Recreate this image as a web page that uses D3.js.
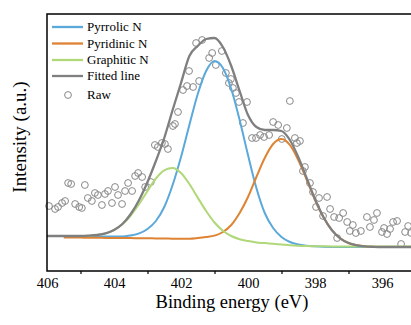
<!DOCTYPE html>
<html>
<head>
<meta charset="utf-8">
<script src="https://cdn.jsdelivr.net/npm/d3@7"></script>
<style>
    body { margin: 0; background: #fff; }
    svg { display: block; font-family: "Liberation Serif", "Times New Roman", serif; }
</style>
</head>
<body>
<svg id="xps-chart"></svg>
<script>
const width = 411, height = 325
const margin = {
    top: 14,
    bottom: 54,
    left: 47,
}

const energy = [406, 405.75, 405.5, 405.25, 405, 404.75, 404.5, 404.25, 404, 403.75, 403.5, 403.25,
    403, 402.75, 402.5, 402.25, 402, 401.75, 401.5, 401.25, 401, 400.75, 400.5, 400.25, 400,
    399.75, 399.5, 399.25, 399, 398.75, 398.5, 398.25, 398, 397.75, 397.5, 397.25, 397,
    396.75, 396.5, 396.25, 396, 395.75, 395.5, 395.25, 395]
const pyrrolic = [null, null, 35, 35, 35, 34.8, 34.7, 34.5, 34.5, 34.5, 35.6, 37.6,
    42, 50, 64, 86, 114, 146, 177, 200, 210, 203, 182, 151, 116,
    83, 58, 43, 34, 29, 26.5, 25.3, 24.7, 24.3, 24.1, 24, 24,
    24, 24, 24, 24, 24, 24, 24, 24]
const pyridinic = [null, null, 33.5, 33.5, 33.4, 33.3, 33.2, 33.1, 33, 33, 32.9, 32.8,
    32.7, 32.6, 32.5, 32.3, 32.2, 32.3, 33, 34, 35.4, 39, 46, 58, 74,
    94, 113, 127, 132, 126, 111, 91.5, 71, 54, 41, 32.7, 28,
    25.7, 24.6, 24.2, 24, 24, 24, 24, 24]
const graphitic = [null, null, 35, 35, 35, 35.3, 36, 37.6, 40.9, 46.7, 55.5, 67,
    80, 92.5, 100.7, 103, 98, 87, 73.4, 60, 48.5, 40.3, 35, 31.8, 30,
    28.6, 27.9, 27.2, 26.5, 25.8, 25.3, 25, 24.8, 24.7, 24.6, 24.6, 24.5,
    24.5, 24.5, 24.5, 24.5, 24.5, 24.5, 24.5, 24.5]
const fitted = [35, 35, 35, 35, 35, 35.3, 36, 37.6, 41, 47, 57, 71,
    89, 110, 133, 161, 188, 215, 225, 232, 233, 224, 205, 180, 156,
    144, 141, 141, 140, 131, 114, 93, 72, 54, 41, 32.7, 28,
    25.7, 24.6, 24.2, 24, 24, 24, 24, 24]

// raw spectrum points
const rawEnergy = [405.94, 405.76, 405.67, 405.55, 405.46, 405.37, 405.28, 405.16, 405.04, 404.96,
    404.87, 404.78, 404.66, 404.57, 404.48, 404.36, 404.27, 404.18, 404.06, 403.97,
    403.88, 403.76, 403.67, 403.58, 403.46, 403.37, 403.28, 403.16, 403.07, 402.90,
    402.78, 402.69, 402.57, 402.48, 402.39, 402.24, 402.18, 402.09, 401.94, 401.82,
    401.64, 401.76, 401.46, 401.55, 401.37, 401.16, 401.07, 400.96, 400.78, 400.66,
    400.51, 400.57, 400.45, 400.36, 400.27, 400.03, 400.15, 399.88, 399.76, 399.64,
    399.52, 399.37, 399.25, 399.10, 398.99, 398.84, 398.75, 398.60, 398.45, 398.54,
    398.30, 398.36, 398.15, 398.06, 397.88, 397.64, 397.97, 397.76, 397.55, 397.43,
    397.28, 397.16, 397.04, 396.96, 396.87, 396.78, 396.63, 397.34, 396.45, 396.36,
    396.24, 396.15, 396.00, 395.94, 395.85, 395.76, 395.67, 395.55, 395.43, 395.31,
    395.22, 395.13]
const rawIntensity = [65, 62, 64, 68, 70, 88, 87, 67, 64, 63,
    86, 73, 70, 78, 76, 66, 77, 80, 68, 84,
    76, 67, 80, 88, 80, 95, 98, 94, 84, 89,
    126, 124, 128, 127, 122, 145, 147, 159, 181, 185,
    184, 200, 190, 228, 231, 213, 218, 206, 220, 198,
    192, 188, 183, 178, 169, 169, 148, 133, 133, 136,
    134, 136, 149, 146, 132, 143, 170, 133, 130, 128,
    104, 100, 88, 79, 73, 74, 64, 55, 62, 54,
    53, 58, 49, 40, 46, 38, 40, 33, 54, 44,
    51, 58, 39, 43, 37, 42, 49, 50, 27, 39,
    45, 38]

const xTicks = [406, 404, 402, 400, 398, 396]
const xMinorTicks = [405, 403, 401, 399, 397]

const seriesNames = ["Pyrrolic N", "Pyridinic N", "Graphitic N", "Fitted line"]
const seriesColors = ["#5ba8da", "#de8333", "#b0d778", "#7f7f7f"]
const seriesValues = [pyrrolic, pyridinic, graphitic, fitted]

const svg = d3.select("svg#xps-chart")
    .attr("width", width)
    .attr("height", height)

const xScale = d3.scaleLinear()
    .domain([406, 395])
    .range([margin.left, 415.5])

const yScale = d3.scaleLinear()
    .domain([0, 257])
    .range([height - margin.bottom, margin.top])

// raw points
svg.append("g").classed("raw", true)
    .selectAll("circle")
    .data(rawEnergy.map((e, i) => ({e, v: rawIntensity[i]})))
    .enter()
    .append("circle")
    .attr("cx", d => xScale(d.e))
    .attr("cy", d => yScale(d.v))
    .attr("r", 3.4)
    .attr("fill", "none")
    .attr("stroke", "#888")
    .attr("stroke-width", 1)

// curves
const line = d3.line()
    .defined(d => d.v !== null)
    .x(d => xScale(d.e))
    .y(d => yScale(d.v))
    .curve(d3.curveMonotoneX)

svg.append("g").classed("curves", true)
    .selectAll("path")
    .data(seriesValues)
    .enter()
    .append("path")
    .attr("d", vals => line(vals.map((v, i) => ({e: energy[i], v}))))
    .attr("fill", "none")
    .attr("stroke", (_, i) => seriesColors[i])
    .attr("stroke-width", (_, i) => i === 3 ? 2.3 : 2)

// frame
svg.append("rect")
    .attr("x", margin.left)
    .attr("y", margin.top)
    .attr("width", 415.5 - margin.left)
    .attr("height", height - margin.bottom - margin.top)
    .attr("fill", "none")
    .attr("stroke", "#000")
    .attr("stroke-width", 1.5)

// X axis labels
const xAxis = svg.append("g").classed("x-axis", true)
    .attr("transform", `translate(0, ${height - margin.bottom})`)
    .call(d3.axisBottom(xScale).tickValues(xTicks).tickSize(0).tickPadding(7).tickFormat(d3.format("d")))
xAxis.select(".domain").remove()
xAxis.selectAll("text")
    .attr("fill", "#000")
    .style("font-family", "Liberation Serif, serif")
    .style("font-size", "14.5px")

// odd ticks
const xMinor = svg.append("g").classed("x-minor", true)
    .attr("transform", `translate(0, ${height - margin.bottom})`)
    .call(d3.axisBottom(xScale).tickValues(xMinorTicks).tickSize(3).tickFormat(""))
xMinor.select(".domain").remove()
xMinor.selectAll("line").attr("stroke", "#000").attr("stroke-width", 1.2)

svg.append("text")
    .attr("x", 232)
    .attr("y", 308)
    .attr("text-anchor", "middle")
    .style("font-size", "18.5px")
    .text("Binding energy (eV)")

svg.append("text")
    .attr("transform", "translate(26, 137) rotate(-90)")
    .attr("text-anchor", "middle")
    .style("font-size", "19px")
    .text("Intensity (a.u.)")

// legend
const legend = svg.append("g").classed("legend", true)
const rowY = [27, 43.5, 60, 76]
seriesNames.forEach((name, i) => {
    legend.append("line")
        .attr("x1", 52).attr("x2", 83)
        .attr("y1", rowY[i]).attr("y2", rowY[i])
        .attr("stroke", seriesColors[i])
        .attr("stroke-width", 2.3)
    legend.append("text")
        .attr("x", 87)
        .attr("y", rowY[i])
        .attr("dy", "0.33em")
        .style("font-size", "13px")
        .text(name)
})
legend.append("circle")
    .attr("cx", 68).attr("cy", 95)
    .attr("r", 3.4)
    .attr("fill", "none")
    .attr("stroke", "#888")
legend.append("text")
    .attr("x", 87)
    .attr("y", 95)
    .attr("dy", "0.33em")
    .style("font-size", "13px")
    .text("Raw")
</script>
</body>
</html>
